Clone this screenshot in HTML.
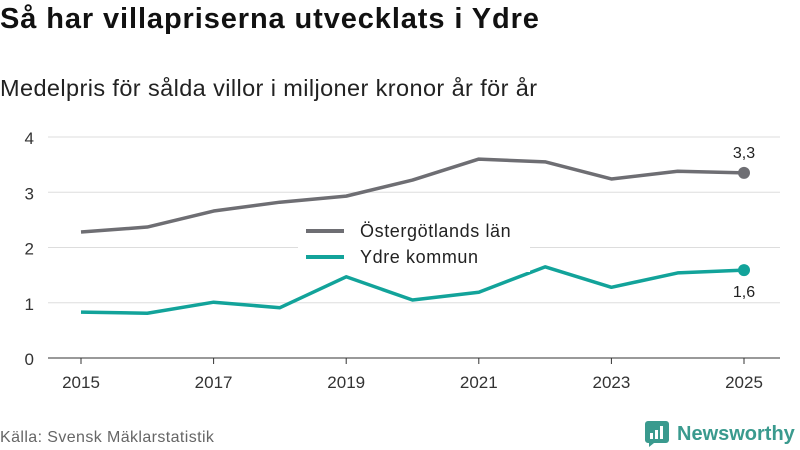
<!DOCTYPE html>
<html><head><meta charset="utf-8"><style>
body{margin:0;width:800px;height:450px;background:#fff;font-family:"Liberation Sans",sans-serif;overflow:hidden;position:relative}
.t{position:absolute;left:0;top:3px;font-size:29px;font-weight:bold;color:#111;letter-spacing:0.9px}
.s{position:absolute;left:0;top:75px;font-size:23.5px;color:#222;letter-spacing:0.4px}
.src{position:absolute;left:0;top:429px;font-size:16px;color:#666;letter-spacing:0.4px}
</style></head><body>
<div class="t">Så har villapriserna utvecklats i Ydre</div>
<div class="s">Medelpris för sålda villor i miljoner kronor år för år</div>
<svg id="c" width="800" height="450" style="position:absolute;left:0;top:0"></svg>
<div class="src">Källa: Svensk Mäklarstatistik</div>
<div style="position:absolute;left:645px;top:421px;display:flex;align-items:center;gap:8px">
<svg width="24" height="26"><path d="M0 3 a3 3 0 0 1 3-3 h18 a3 3 0 0 1 3 3 v16 a3 3 0 0 1-3 3 h-12 l-5 4 v-4 h-1 a3 3 0 0 1-3-3z" fill="#3a9a8e"/><rect x="5" y="12" width="3" height="6" fill="#fff"/><rect x="10" y="9" width="3" height="9" fill="#fff"/><rect x="15" y="5" width="3" height="13" fill="#fff"/></svg>
<span style="font-size:20px;color:#3a9a8e;font-weight:bold">Newsworthy</span></div>
<script>
const years=[2015,2016,2017,2018,2019,2020,2021,2022,2023,2024,2025];
const ostergotland=[2.28,2.37,2.66,2.82,2.93,3.22,3.60,3.55,3.24,3.38,3.35];
const ydre=[0.83,0.81,1.01,0.91,1.47,1.05,1.19,1.65,1.28,1.54,1.59];
const yTicks=[0,1,2,3,4];
const xTicks=[2015,2017,2019,2021,2023,2025];
const svg=document.getElementById('c'),NS='http://www.w3.org/2000/svg';
const X=v=>81+(v-2015)*66.3, Y=v=>358-v*55.25;
function mk(t,a,p){const e=document.createElementNS(NS,t);for(const k in a)e.setAttribute(k,a[k]);(p||svg).appendChild(e);return e;}
yTicks.forEach(v=>{
 const l=mk('line',{x1:48,x2:780,y1:Y(v),y2:Y(v),stroke:v?'#ddd':'#333','stroke-width':1});
 
 
 const t=mk('text',{x:34,y:Y(v)+7,'text-anchor':'end','font-size':17,fill:'#333'});t.textContent=v;
 
 
});
xTicks.forEach(v=>{
 const l=mk('line',{x1:X(v),x2:X(v),y1:358,y2:364,stroke:'#333'});
 
 
 const t=mk('text',{x:X(v),y:388,'text-anchor':'middle','font-size':17,fill:'#333'});t.textContent=v;
 
 
});
function series(d,col,name,lab,dy){
 const p=mk('path',{d:d.map((v,i)=>(i?'L':'M')+X(years[i])+' '+Y(v)).join(''),fill:'none',stroke:col,'stroke-width':3.5,'stroke-linejoin':'round'});
 
 
 const n=d.length-1;
 const c=mk('circle',{cx:X(years[n]),cy:Y(d[n]),r:6,fill:col});
 
 
 const t=mk('text',{x:X(years[n]),y:Y(d[n])+dy,'text-anchor':'middle','font-size':16,fill:'#222'});t.textContent=lab;
 
 
}
series(ostergotland,'#6e6e73','ostergotland','3,3',-15);
series(ydre,'#12a39a','ydre','1,6',27);
const lg=mk('g',{});


mk('rect',{x:298,y:216,width:232,height:56,fill:'#fff'},lg);
mk('line',{x1:306,x2:344,y1:231,y2:231,stroke:'#6e6e73','stroke-width':4},lg);
let t=mk('text',{x:360,y:237,'font-size':18,fill:'#222','letter-spacing':0.6},lg);t.textContent='Östergötlands län';
mk('line',{x1:306,x2:344,y1:257,y2:257,stroke:'#12a39a','stroke-width':4},lg);
t=mk('text',{x:360,y:263,'font-size':18,fill:'#222','letter-spacing':0.6},lg);t.textContent='Ydre kommun';
</script>
</body></html>
